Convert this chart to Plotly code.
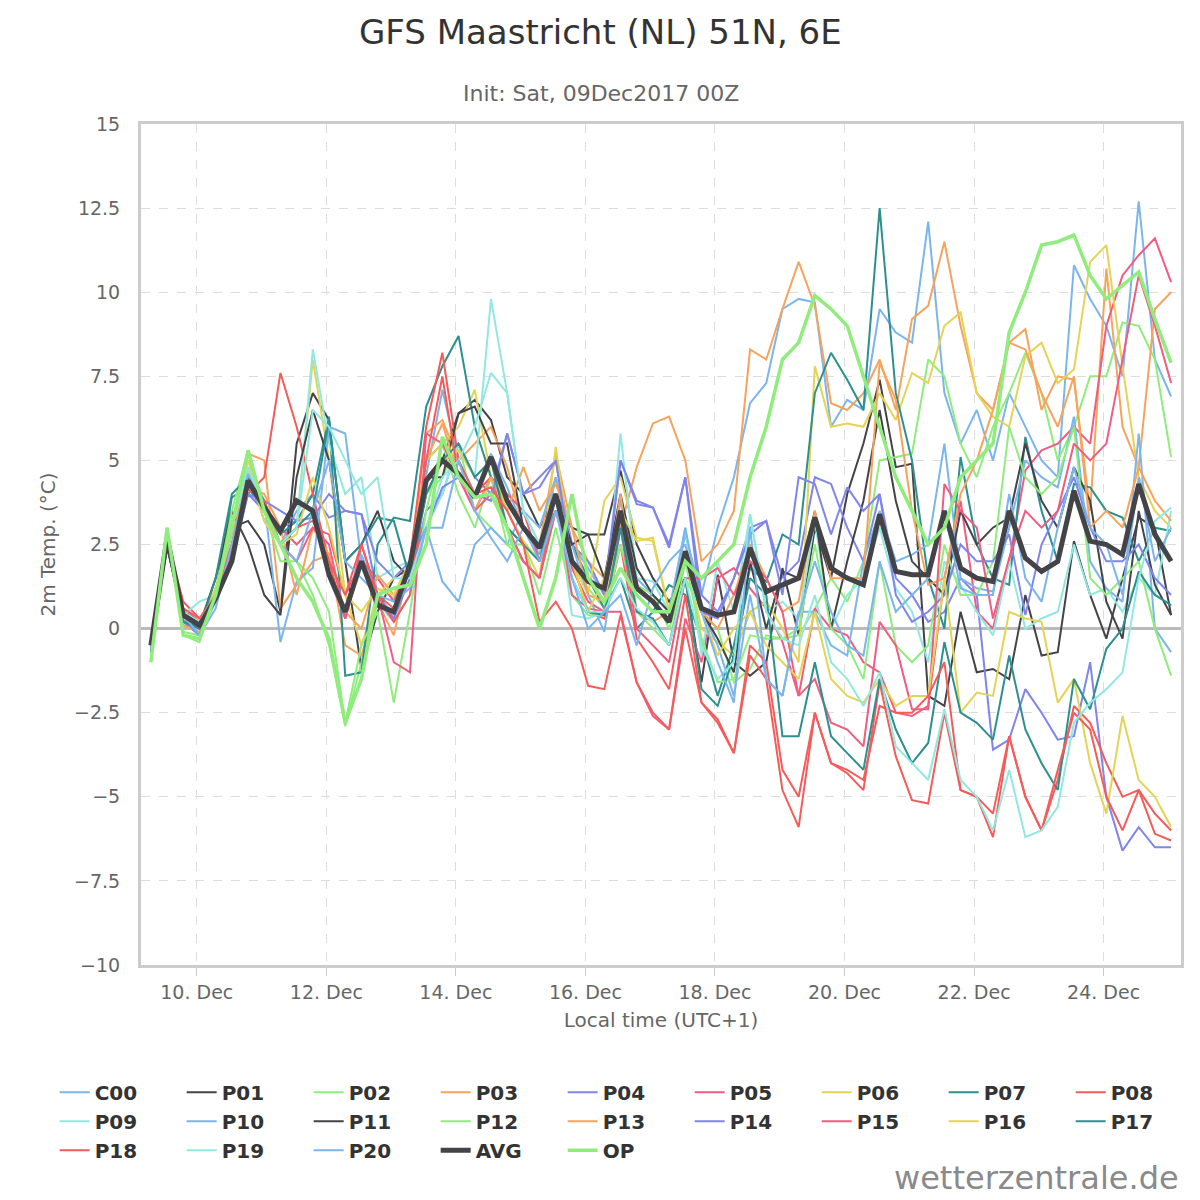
import plotly.graph_objects as go
import pandas as pd

times = pd.date_range("2017-12-09 07:00", periods=64, freq="6h")

C00=[-0.8,2.8,0.5,0.2,0.8,2.2,4.8,3.2, 2.5,3.5,4.0,1.5,0.3,2.2,1.0,0.4, 2.0,4.5,7.1,5.0,4.0,5.2,4.2,3.0, 2.2,4.5,2.5,1.8,1.0,3.8,1.5,1.0, 0.5,2.8,1.0,3.0,4.5,6.7,7.3,9.5, 9.8,9.7,6.0,6.8,6.5,9.5,8.8,8.5, 12.1,7.0,5.5,6.5,5.0,7.0,6.0,5.0, 4.5,10.8,9.8,9.0,7.5,12.7,8.0,6.9]
P01=[-0.5,2.6,0.3,0.0,1.0,3.0,3.2,2.5, 0.5,5.5,7.0,6.2,2.0,-1.2,0.5,1.5, 1.8,4.0,5.0,6.4,6.8,6.2,4.5,4.0, 3.0,4.0,3.0,2.8,2.8,4.7,2.5,1.5, 0.8,1.5,-1.6,1.6,-1.0,-1.4,-1.0,1.8, -0.2,3.0,1.5,4.0,5.5,7.4,4.8,4.9, -2.0,-2.3,0.5,-1.3,-1.2,-1.5,1.0,-0.8, -0.7,2.6,1.0,-0.3,1.5,3.3,3.0,0.4]
P02=[-0.8,2.9,-0.1,-0.2,1.0,3.2,5.0,3.8, 2.5,2.0,1.0,-0.5,-2.9,-1.0,1.2,0.9, 2.0,4.0,4.5,5.5,3.5,3.0,2.5,2.0, 1.5,3.5,2.0,1.2,0.6,3.0,1.3,1.0, 0.0,1.5,0.5,0.0,-1.6,-1.2,-0.2,-0.3, -0.2,0.6,1.5,0.8,2.0,5.0,5.1,5.2, 8.0,7.5,5.5,4.5,6.0,7.0,8.2,7.0, 5.0,6.0,7.5,7.5,9.1,9.0,8.0,5.1]
P03=[-0.6,2.8,0.4,0.0,1.2,2.5,5.2,5.0, 0.6,1.3,2.0,2.2,-0.5,-0.8,0.8,-0.2, 2.0,5.8,6.2,5.0,5.5,6.0,4.8,3.0, 2.5,5.2,3.0,2.0,1.5,3.0,4.8,6.1, 6.3,5.0,2.0,2.5,3.5,8.3,8.0,9.5, 10.9,9.6,6.7,6.5,7.0,8.0,6.5,9.2, 9.6,11.5,9.0,7.0,6.5,8.5,8.9,6.5, 7.5,7.4,3.5,10.7,6.0,4.8,9.5,10.0]
P04=[-0.5,2.5,0.2,-0.2,1.0,2.0,4.0,3.5, 3.0,3.2,4.0,3.3,3.5,3.4,1.0,0.3, 1.5,3.5,4.0,5.5,4.5,4.0,5.8,4.0, 4.5,5.0,2.5,2.0,1.0,5.0,3.7,3.6, 2.4,4.5,1.0,0.5,1.5,3.0,3.2,1.5, 2.0,4.5,4.3,3.0,2.0,4.0,1.5,1.0, 0.2,0.5,1.5,1.0,-3.6,-3.3,-1.8,-2.5, -3.3,-3.2,-1.0,-5.0,-6.6,-5.9,-6.5,-6.5]
P05=[-0.4,2.7,0.6,0.2,1.0,2.5,4.5,3.5, 3.0,2.5,3.0,2.8,1.0,2.0,1.5,0.8, 2.0,5.0,5.5,4.5,3.5,4.5,4.0,3.5, 2.0,3.5,1.8,0.8,0.5,0.5,-1.6,-2.6, -3.0,0.3,-1.0,1.5,1.8,1.2,0.6,-0.4, -2.0,0.6,0.0,-0.2,-1.0,-1.3,-2.5,-2.6, -2.3,1.5,3.8,0.5,0.0,2.0,4.7,5.3, 5.5,6.0,5.5,9.0,10.5,11.1,11.6,10.3]
P06=[-0.9,2.9,0.3,0.0,1.2,3.0,5.0,3.5, 2.5,3.0,8.0,5.0,1.0,-0.5,1.0,1.5, 2.0,5.0,5.5,6.0,7.1,4.5,3.0,2.5, 1.5,5.4,2.0,1.0,3.8,4.5,2.7,2.6, 0.5,2.2,0.0,-0.4,-0.8,0.5,0.8,0.0, -1.0,7.8,6.0,6.1,6.0,7.0,6.2,7.6, 7.3,9.0,9.4,7.0,6.3,6.0,8.1,8.5, 7.3,7.7,10.9,11.4,7.8,4.5,3.5,3.0]
P07=[-0.6,2.6,0.3,0.0,1.0,3.9,4.2,3.5, 2.8,3.2,4.0,6.3,-1.4,-1.3,2.5,3.3, 3.2,6.6,7.8,8.7,6.0,4.5,3.7,3.0, 2.5,3.5,2.5,1.5,0.6,1.5,0.0,0.5, 1.3,1.0,-0.3,-2.0,-0.5,1.8,1.4,2.8, 2.5,7.0,8.2,7.4,6.5,12.5,7.0,5.0, 1.5,0.0,5.1,2.5,1.5,1.3,5.7,3.5, 2.0,4.3,4.2,3.5,3.3,2.0,3.0,2.9]
P08=[-0.5,2.6,0.8,0.3,1.0,2.5,4.0,4.5, 7.6,6.0,4.0,2.0,0.3,2.0,1.0,0.6, 2.0,6.0,8.2,5.0,4.0,4.5,3.0,2.0, 1.5,3.5,2.0,0.5,0.3,2.5,-0.3,-1.0, -1.8,1.0,-2.2,-2.7,-3.7,-0.8,-1.5,-4.8, -5.9,-2.5,-4.0,-4.3,-4.8,-1.6,-3.8,-5.1, -5.2,-2.5,-4.8,-5.0,-5.5,-3.2,-5.0,-6.0, -4.5,-2.3,-2.8,-4.0,-5.0,-4.8,-5.5,-6.0]
P09=[-0.8,2.9,0.4,0.8,1.0,3.0,4.8,3.5, 2.5,3.0,8.3,5.5,4.0,4.5,1.5,1.8, 2.0,3.0,4.0,5.5,4.5,9.8,7.0,3.5, 2.5,4.0,0.4,0.3,0.5,5.8,1.5,1.4, 0.5,3.0,-0.8,2.0,0.5,3.4,0.5,0.8, 0.3,3.2,0.0,1.0,1.5,3.0,1.2,0.5, -1.0,2.0,1.3,0.5,-0.2,2.0,0.0,0.3, 0.5,2.5,1.0,1.2,0.5,1.5,1.0,3.5]
P10=[-0.7,2.7,0.3,-0.2,0.8,2.5,4.5,3.8, -0.4,1.4,1.8,6.0,5.8,2.0,0.8,0.2, 1.0,3.0,1.4,0.8,2.5,3.0,2.5,3.5, 3.0,4.5,2.5,1.0,-0.1,3.0,1.0,0.5, 0.5,3.0,0.5,-0.5,-2.0,1.0,-1.5,-2.0, 0.5,0.5,-0.5,-0.8,2.0,3.5,2.0,2.2, 2.5,5.5,1.5,1.2,1.1,3.0,5.0,4.5, 4.2,6.3,2.0,1.2,0.8,5.8,0.0,-0.7]
P11=[-0.4,2.4,0.4,0.1,1.5,3.5,2.5,1.0, 0.4,4.5,6.5,5.0,2.0,2.5,3.5,2.0, 1.5,4.5,4.5,6.4,6.6,5.5,5.5,3.0, 2.5,4.0,2.5,2.8,1.5,4.0,1.8,1.0, 0.5,2.0,0.5,-0.3,-1.3,2.0,0.0,1.7, 1.5,3.5,0.0,2.0,3.8,6.5,3.8,2.0, 1.5,1.0,3.5,2.5,3.0,3.3,5.5,3.8, 3.0,4.8,3.8,0.8,-0.3,3.5,1.3,0.4]
P12=[-1.0,3.0,-0.2,-0.4,1.0,3.5,5.3,3.5, 2.0,2.0,1.5,0.5,-2.8,-0.5,0.5,-2.2, 0.5,3.5,5.5,4.0,3.0,4.5,2.5,2.5, 1.0,3.0,1.0,0.4,0.4,2.5,0.5,0.0, -0.5,2.0,-0.3,-1.6,-1.5,-0.2,-0.3,-0.3, 0.0,2.5,0.0,-0.5,-1.5,2.0,-0.5,-1.0, -0.5,2.5,1.0,1.0,2.0,6.0,4.5,4.0, 4.5,6.0,1.5,1.0,1.5,2.0,0.0,-1.4]
P13=[-0.7,2.6,0.1,-0.1,1.0,2.8,4.2,4.0, 3.0,1.0,3.0,2.2,0.5,0.0,1.6,1.0, 2.0,5.0,6.1,4.5,3.5,4.5,3.5,4.8, 3.5,4.3,3.0,1.0,0.8,4.0,0.5,0.2, 0.5,2.3,0.5,0.0,1.0,2.5,1.5,0.5, 0.8,3.5,1.5,1.5,1.5,7.9,6.8,3.5, 1.3,1.5,4.0,5.0,6.5,8.5,8.3,7.0, 6.0,7.5,3.0,3.5,3.0,4.8,3.8,3.2]
P14=[-0.6,2.5,0.3,-0.2,1.0,2.3,4.0,3.8, 3.5,3.2,3.3,4.0,3.5,3.4,2.0,1.5, 2.0,3.0,4.2,4.5,4.0,3.8,5.8,4.0, 4.2,5.0,2.0,1.5,1.2,5.0,3.8,3.6, 2.5,4.5,0.5,0.3,1.5,2.8,3.2,1.0, 4.5,4.3,2.8,4.2,3.5,4.0,1.0,0.2, 0.5,1.0,2.5,2.0,2.0,2.8,0.4,2.5, 3.5,4.5,3.0,2.0,2.0,2.5,1.5,1.0]
P15=[-0.5,2.6,0.5,0.2,1.0,2.5,4.2,3.8, 2.5,2.0,3.0,2.5,0.3,2.5,1.0,-1.0, -1.3,5.8,5.5,4.5,3.5,4.0,3.0,2.0, 1.5,4.0,1.0,0.6,0.5,3.0,0.0,-0.5, -1.0,1.5,1.5,1.8,1.0,2.0,1.5,0.5, -2.0,-1.5,-2.8,-3.0,-3.5,0.2,-0.5,-2.4, -2.4,4.3,3.5,3.0,0.3,2.1,3.5,3.0, 3.5,5.5,5.0,5.5,8.0,10.5,9.0,7.3]
P16=[-0.8,2.8,0.3,0.1,1.2,3.0,4.7,3.2, 2.5,2.8,4.5,3.0,1.0,0.5,1.2,1.0, 2.0,4.5,5.0,5.3,4.5,5.0,3.5,2.6, 2.0,4.0,2.0,0.5,1.5,3.5,2.6,2.7, 0.5,2.2,0.5,-0.8,0.0,0.5,-0.5,-1.0, -1.5,0.5,-1.5,-2.0,-2.2,-1.5,-2.3,-2.0, -2.0,1.5,-2.5,-1.9,-2.0,0.5,0.3,0.2, -2.2,-1.5,-4.0,-5.5,-2.6,-4.5,-5.0,-5.9]
P17=[-0.7,2.7,0.2,0.0,1.5,4.0,4.5,3.8, 2.5,3.0,3.5,6.2,2.0,2.5,3.3,3.2, 1.5,4.0,5.0,5.5,4.5,5.0,3.0,2.5, 2.0,4.0,1.5,0.5,0.4,3.0,0.5,0.3, -0.5,1.5,-1.8,-2.3,-0.8,1.5,1.0,-3.2, -3.2,-1.0,-3.2,-3.7,-4.2,-1.5,-3.0,-4.0, -3.4,-0.4,-2.5,-2.8,-3.3,-0.8,-3.0,-4.0, -4.8,-1.5,-2.4,-0.6,0.0,1.7,1.0,0.7]
P18=[-0.5,2.5,0.6,0.3,1.0,2.2,4.2,3.8, 2.5,3.0,3.2,2.0,1.0,2.5,1.0,0.2, 1.0,5.0,7.5,4.5,4.0,4.2,3.5,2.5, 0.2,0.8,0.0,-1.7,-1.8,0.4,-1.6,-2.5, -3.0,0.0,-2.2,-2.8,-3.7,-0.5,-1.0,-4.2, -5.0,-2.5,-4.0,-4.2,-4.5,-2.3,-2.5,-2.5, -2.0,-1.0,-4.8,-5.0,-6.2,-3.2,-5.0,-6.0, -4.2,-2.5,-3.0,-5.0,-6.0,-4.8,-6.1,-6.3]
P19=[-0.9,2.8,0.5,0.2,1.0,3.0,4.8,3.5, 2.5,3.0,6.5,6.0,5.0,4.0,4.5,1.5, 1.5,3.0,4.5,5.0,6.0,7.6,7.0,3.5, 2.5,4.0,1.5,0.5,0.5,1.5,0.6,0.2, -0.5,1.5,-0.5,-1.5,-1.0,3.4,0.5,-0.3, -0.5,1.0,-1.0,-1.5,-2.3,-1.3,-3.5,-4.0, -4.5,-2.4,-4.5,-5.0,-6.0,-4.2,-6.2,-6.0, -5.3,-2.8,-2.2,-1.8,-1.3,1.5,3.2,3.6]
P20=[-0.6,2.7,0.4,-0.2,0.6,2.5,4.6,3.5, 2.5,2.0,3.5,5.0,2.0,1.5,1.0,0.8, 1.2,3.0,3.0,5.0,3.5,2.7,2.0,3.0, 2.0,3.5,1.5,0.0,0.5,1.0,-0.5,1.2, 2.0,2.5,0.5,-1.0,-2.2,3.0,-1.5,-2.0, 0.4,2.0,0.5,-0.5,-0.8,2.0,0.5,1.0, 1.5,3.5,1.2,1.0,1.0,4.0,1.5,0.8, 3.0,4.8,3.0,2.5,1.0,4.5,2.0,3.0]
AVG=[-0.5,2.7,0.4,0.1,0.9,2.0,4.4,3.6, 2.9,3.8,3.5,1.6,0.5,2.0,0.7,0.5, 1.9,4.4,5.0,4.6,3.9,5.1,3.8,3.0, 2.4,4.0,2.0,1.4,1.2,3.5,1.2,0.8, 0.2,2.3,0.6,0.4,0.5,2.4,1.1,1.3, 1.5,3.3,1.8,1.5,1.3,3.4,1.7,1.6, 1.6,3.5,1.8,1.5,1.4,3.5,2.1,1.7, 2.0,4.1,2.6,2.5,2.2,4.3,2.8,2.0]
OP=[-1.0,3.0,-0.2,-0.3,1.0,3.0,5.3,3.5, 2.5,1.5,0.8,-0.3,-2.8,-1.5,1.0,1.2, 1.3,2.5,5.7,4.5,3.9,4.0,3.0,1.5, 0.0,1.5,4.0,1.5,0.8,1.8,1.0,0.5, 0.5,2.0,1.5,2.0,2.5,4.5,6.0,8.0, 8.5,9.9,9.5,9.0,7.5,6.0,4.5,3.5, 2.5,3.0,4.5,5.0,5.5,8.8,10.0,11.4, 11.5,11.7,10.5,9.8,10.2,10.6,9.2,7.9]

members = [("C00",C00),("P01",P01),("P02",P02),("P03",P03),("P04",P04),("P05",P05),
           ("P06",P06),("P07",P07),("P08",P08),("P09",P09),("P10",P10),("P11",P11),
           ("P12",P12),("P13",P13),("P14",P14),("P15",P15),("P16",P16),("P17",P17),
           ("P18",P18),("P19",P19),("P20",P20)]
palette = ["#7cb5ec","#434348","#90ed7d","#f7a35c","#8085e9","#f15c80","#e4d354","#2b908f","#f45b5b","#91e8e1"]

fig = go.Figure()
for k,(name,vals) in enumerate(members):
    fig.add_trace(go.Scatter(x=times, y=vals, name=name, mode="lines",
                             line=dict(color=palette[k % 10], width=2)))
fig.add_trace(go.Scatter(x=times, y=AVG, name="AVG", mode="lines", line=dict(color="#434348", width=5)))
fig.add_trace(go.Scatter(x=times, y=OP, name="OP", mode="lines", line=dict(color="#90ed7d", width=3.5)))

font = "DejaVu Sans, Lato, sans-serif"
fig.update_layout(
    width=1200, height=1200, plot_bgcolor="white", paper_bgcolor="white",
    margin=dict(l=133, r=27, t=116, b=243, autoexpand=False),
    font=dict(family=font, color="#666666"),
    showlegend=True,
    legend=dict(orientation="h", x=-0.083, xanchor="left", y=-0.128, yanchor="top",
                entrywidth=82, entrywidthmode="pixels", tracegroupgap=0,
                font=dict(size=20, color="#333333", family=font, weight="bold")),
    xaxis=dict(range=["2017-12-09 03:20", "2017-12-25 04:40"], tick0="2017-12-10", dtick=2*86400000,
               tickformat="%d. %b", showgrid=True, gridcolor="#dddddd", griddash="dash",
               ticks="outside", ticklen=8, tickcolor="#cccccc",
               tickfont=dict(size=19, color="#666666"),
               title=dict(text="Local time (UTC+1)", font=dict(size=20, color="#666666"), standoff=12),
               mirror=True, showline=True, linecolor="#cccccc", linewidth=3),
    yaxis=dict(range=[-10, 15], dtick=2.5, showgrid=True, gridcolor="#dddddd", griddash="dash",
               zeroline=True, zerolinecolor="#bbbbbb", zerolinewidth=3,
               tickfont=dict(size=19, color="#666666"), ticklabelstandoff=14,
               title=dict(text="2m Temp. (°C)", font=dict(size=20, color="#666666"), standoff=14),
               mirror=True, showline=True, linecolor="#cccccc", linewidth=3),
    annotations=[
        dict(text="GFS Maastricht (NL) 51N, 6E", xref="paper", yref="paper", x=0.442, y=1.1094,
             xanchor="center", yanchor="middle", showarrow=False, font=dict(size=34, color="#333333", family=font)),
        dict(text="Init: Sat, 09Dec2017 00Z", xref="paper", yref="paper", x=0.442, y=1.0357,
             xanchor="center", yanchor="middle", showarrow=False, font=dict(size=22, color="#666666", family=font)),
        dict(text="wetterzentrale.de", xref="paper", yref="paper", x=1.0, y=-0.2533,
             xanchor="right", yanchor="middle", showarrow=False, font=dict(size=32, color="#8a8a8a", family=font)),
    ],
)
fig.write_html("out.html")
